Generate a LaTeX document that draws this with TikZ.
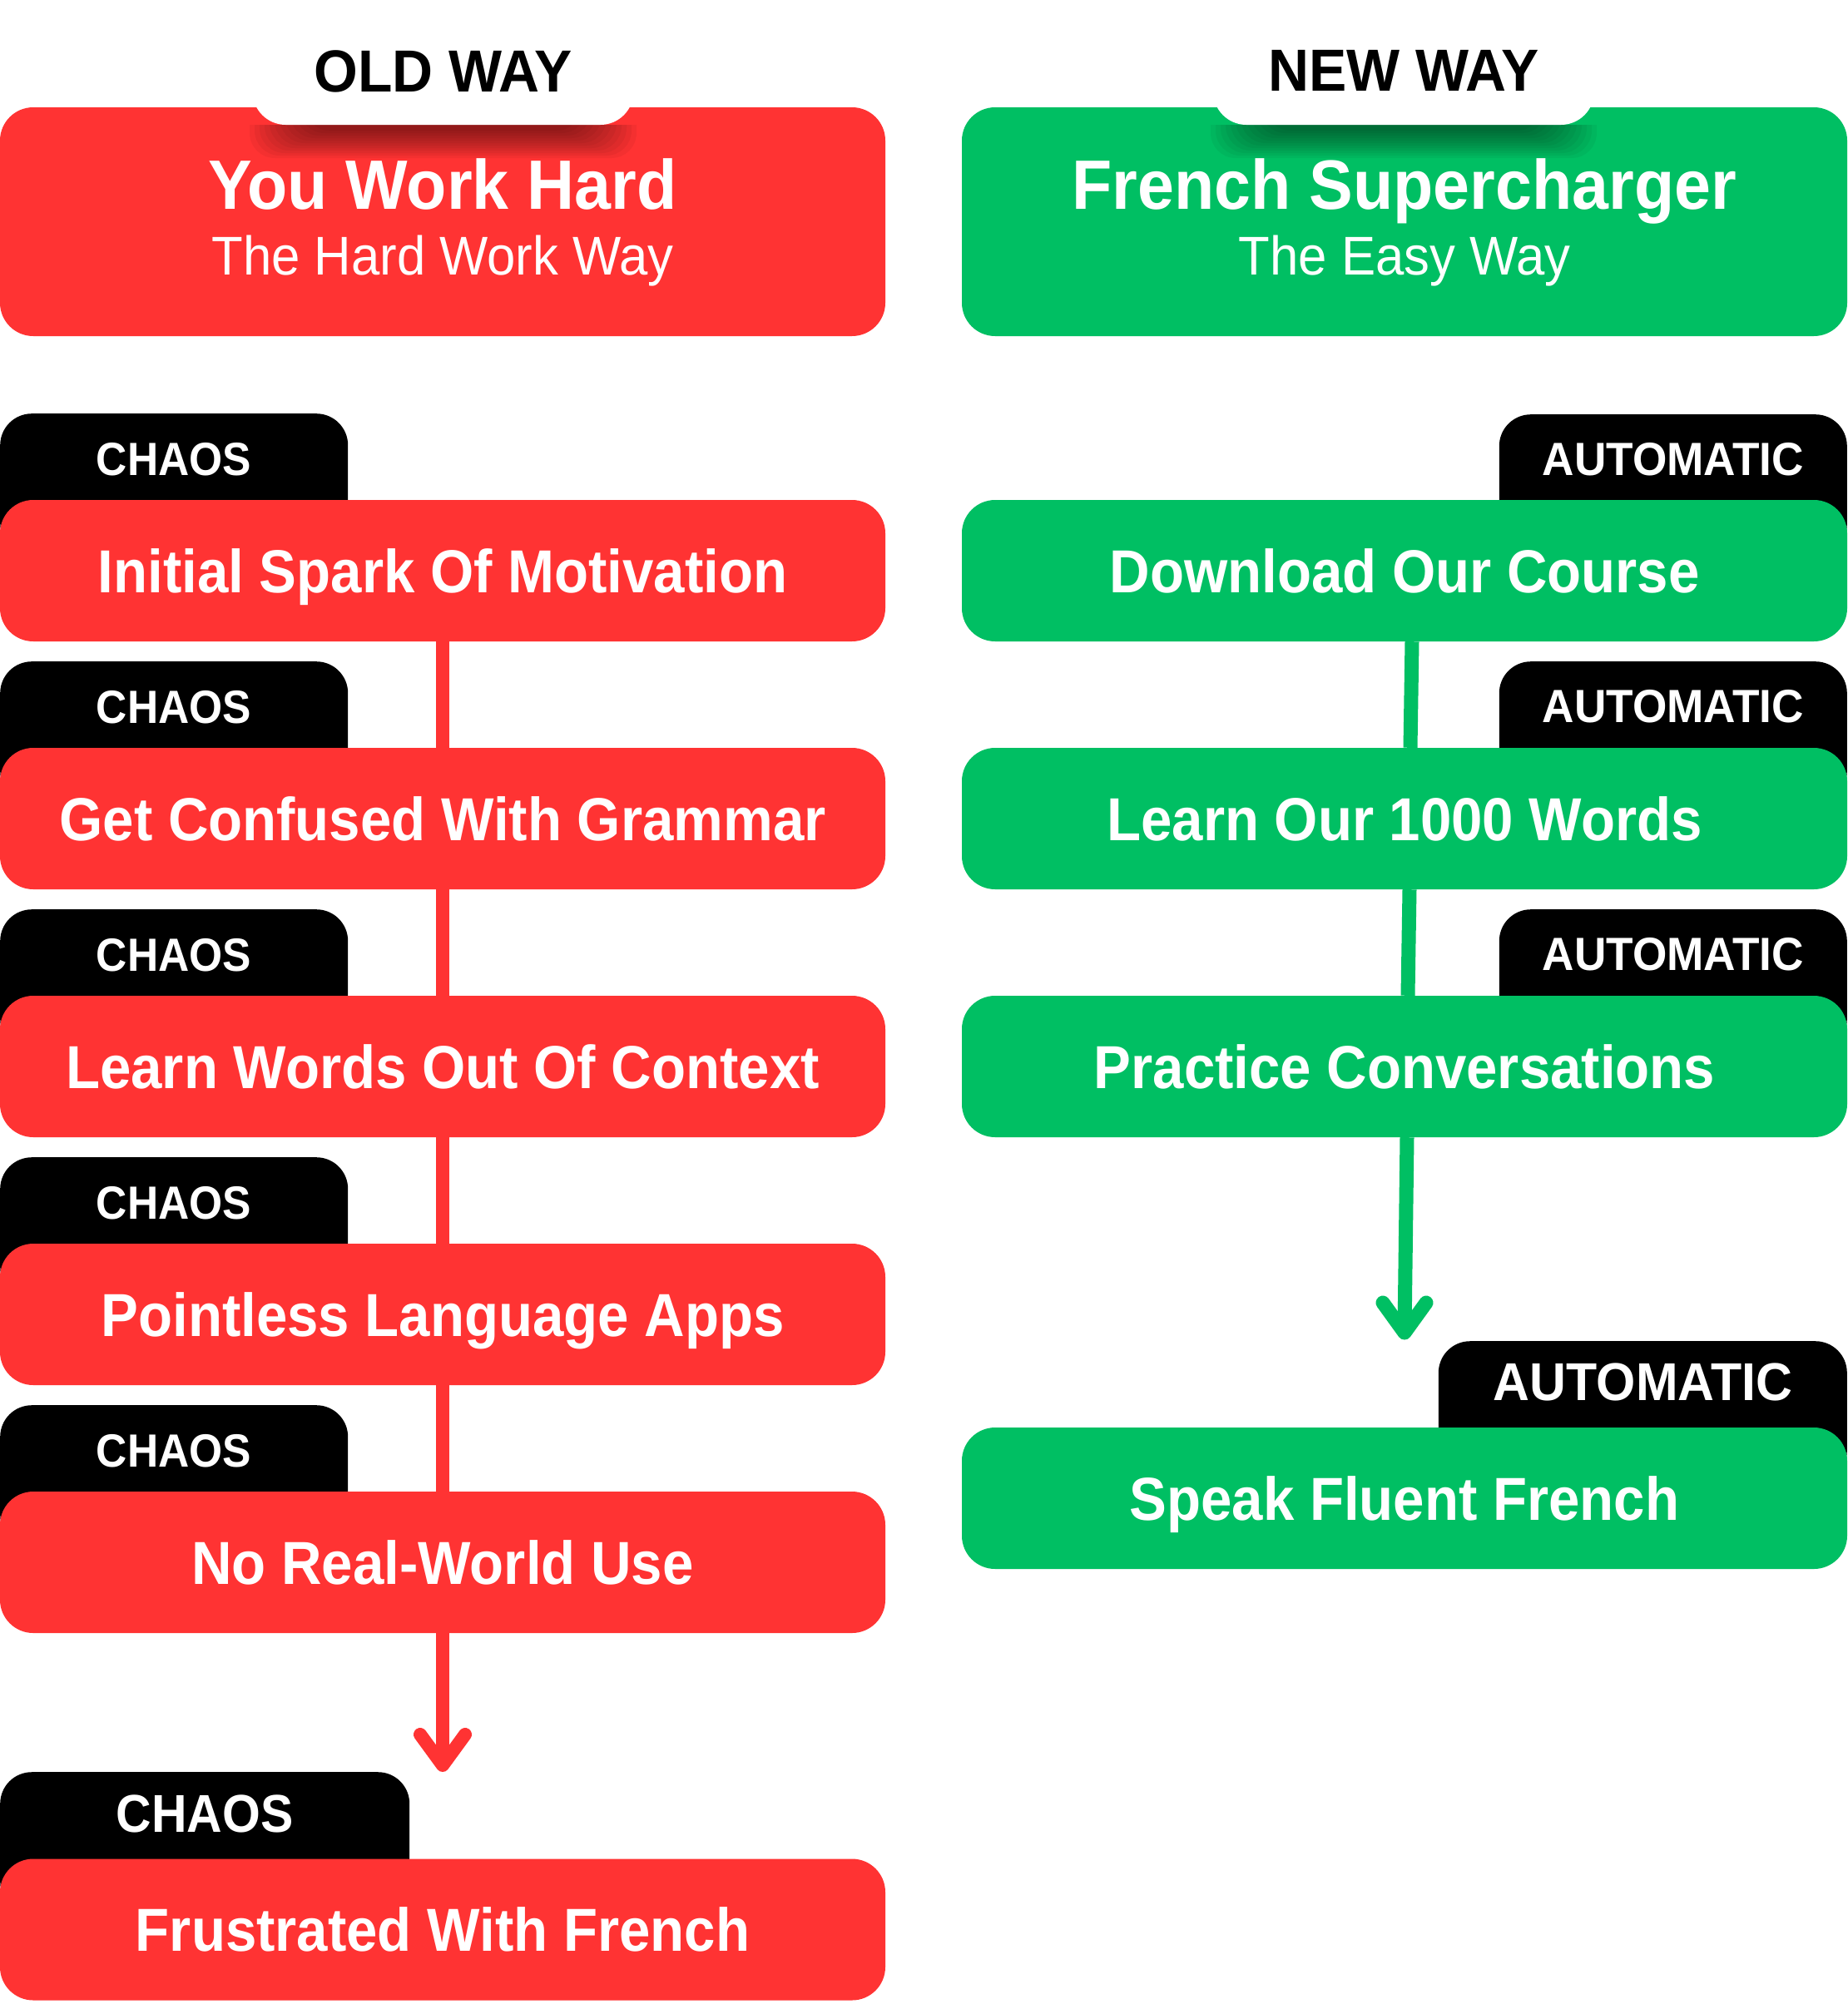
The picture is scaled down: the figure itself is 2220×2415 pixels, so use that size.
\documentclass[tikz,border=0pt]{standalone}
\usepackage{fontspec}
\setmainfont{Liberation Sans}
\newfontfamily\fb{Liberation Sans}[FakeStretch=0.92]
\newfontfamily\fbh{Liberation Sans}[FakeStretch=0.94]
\newfontfamily\fbw{Liberation Sans}[FakeStretch=0.95]
\newfontfamily\fr{Liberation Sans}[FakeStretch=0.94]
\usetikzlibrary{calc}
\definecolor{myred}{HTML}{FF3333}
\definecolor{mygreen}{HTML}{00BF63}
\begin{document}
\begin{tikzpicture}[x=1pt,y=-1pt,
  card/.style={rounded corners=40pt, inner sep=0pt, text=white, minimum width=1064pt},
  stepbox/.style={card, minimum height=170pt, font=\fb\bfseries\fontsize{73}{80}\selectfont, text height=52pt, text depth=0pt},
  redstep/.style={stepbox, fill=myred},
  greenstep/.style={stepbox, fill=mygreen},
  headbox/.style={card, minimum height=275pt},
  headtitle/.style={text=white, inner sep=0pt, font=\fbh\bfseries\fontsize{84}{90}\selectfont, text height=60pt, text depth=0pt},
  headsub/.style={text=white, inner sep=0pt, font=\fr\fontsize{65.6}{70}\selectfont, text height=47pt, text depth=0pt},
  whitetab/.style={fill=white, rounded corners=40pt, inner sep=0pt, minimum width=458pt, minimum height=190pt},
  tabtitle/.style={text=black, inner sep=0pt, font=\fbw\bfseries\fontsize{71.4}{76}\selectfont, text height=51pt, text depth=0pt},
  tabshape/.style={fill=black, rounded corners=38pt, inner sep=0pt, minimum height=170pt},
  chaoslbl/.style={text=white, inner sep=0pt, font=\fb\bfseries\fontsize{56}{60}\selectfont, text height=40pt, text depth=0pt},
  bigchaoslbl/.style={text=white, inner sep=0pt, font=\fb\bfseries\fontsize{64}{70}\selectfont, text height=46pt, text depth=0pt},
  autolbl/.style={text=white, inner sep=0pt, font=\fbw\bfseries\fontsize{56}{60}\selectfont, text height=40pt, text depth=0pt},
  bigautolbl/.style={text=white, inner sep=0pt, font=\fbw\bfseries\fontsize{64}{70}\selectfont, text height=46pt, text depth=0pt},
  redline/.style={draw=myred, line width=16pt},
  greenline/.style={draw=mygreen, line width=17pt},
  chevron/.style={line cap=round, line join=round},
  shadowlayer/.style={fill=black, opacity=0.045, rounded corners=30pt}
]
\useasboundingbox (0,0) rectangle (2220,2415);
\fill[white] (0,0) rectangle (2220,2415);

% ---------- headers ----------
\node[headbox, fill=myred] (HL) at (532,266.5) {};
\node[headbox, fill=mygreen] (HR) at (1688,266.5) {};
\begin{scope}
  \clip (0,150) rectangle (2220,230);
  \foreach \i in {0,...,11} {
    \fill[shadowlayer] (300+6*\i,100) rectangle (765-6*\i,190-3*\i);
    \fill[shadowlayer] (1455+6*\i,100) rectangle (1919-6*\i,190-3*\i);
  }
\end{scope}
\node[whitetab] (TL) at (532.5,55) {};
\node[whitetab] (TR) at (1687,55) {};
\node[tabtitle] (OW) at (532.5,84.5) {OLD WAY};
\node[tabtitle] (NW) at (1687,84) {NEW WAY};
\node[headtitle] (HLt) at (532,221) {You Work Hard};
\node[headsub] (HLs) at (532,306.5) {The Hard Work Way};
\node[headtitle] (HRt) at (1688,221) {French Supercharger};
\node[headsub] (HRs) at (1688,307) {The Easy Way};

% ---------- left tabs ----------
\node[tabshape, minimum width=418pt, anchor=north west] (CT1) at (0,497) {};
\node[tabshape, minimum width=418pt, anchor=north west] (CT2) at (0,795) {};
\node[tabshape, minimum width=418pt, anchor=north west] (CT3) at (0,1093) {};
\node[tabshape, minimum width=418pt, anchor=north west] (CT4) at (0,1391) {};
\node[tabshape, minimum width=418pt, anchor=north west] (CT5) at (0,1689) {};
\node[tabshape, minimum width=492pt, anchor=north west] (CT6) at (0,2130) {};
\node[chaoslbl] (CL1) at (209,551) {CHAOS};
\node[chaoslbl] (CL2) at (209,849) {CHAOS};
\node[chaoslbl] (CL3) at (209,1147) {CHAOS};
\node[chaoslbl] (CL4) at (209,1445) {CHAOS};
\node[chaoslbl] (CL5) at (209,1743) {CHAOS};
\node[bigchaoslbl] (CL6) at (246,2179) {CHAOS};

% ---------- right tabs ----------
\node[tabshape, minimum width=418pt, anchor=north east] (AT1) at (2220,498) {};
\node[tabshape, minimum width=418pt, anchor=north east] (AT2) at (2220,795) {};
\node[tabshape, minimum width=418pt, anchor=north east] (AT3) at (2220,1093) {};
\node[tabshape, minimum width=491pt, anchor=north east] (AT4) at (2220,1612) {};
\node[autolbl] (AL1) at (2011,551) {AUTOMATIC};
\node[autolbl] (AL2) at (2011,848) {AUTOMATIC};
\node[autolbl] (AL3) at (2011,1146) {AUTOMATIC};
\node[bigautolbl] (AL4) at (1974.5,1660) {AUTOMATIC};

% ---------- left steps ----------
\node[redstep] (L1) at (532,686) {Initial Spark Of Motivation};
\node[redstep] (L2) at (532,984) {Get Confused With Grammar};
\node[redstep] (L3) at (532,1282) {Learn Words Out Of Context};
\node[redstep] (L4) at (532,1580) {Pointless Language Apps};
\node[redstep] (L5) at (532,1878) {No Real-World Use};
\node[redstep] (L6) at (532,2319.5) {Frustrated With French};

% ---------- right steps ----------
\node[greenstep] (R1) at (1688,686) {Download Our Course};
\node[greenstep] (R2) at (1688,984) {Learn Our 1000 Words};
\node[greenstep] (R3) at (1688,1282) {Practice Conversations};
\node[greenstep] (R4) at (1688,1801) {Speak Fluent French};

% ---------- connectors ----------
\draw[redline] (L1.south) -- (L2.north);
\draw[redline] (L2.south) -- (L3.north);
\draw[redline] (L3.south) -- (L4.north);
\draw[redline] (L4.south) -- (L5.north);
\coordinate (LA) at (532,2122);
\draw[redline] (L5.south) -- (LA);
\draw[redline, chevron] ($(LA)+(-27,-37)$) -- (LA) -- ($(LA)+(27,-37)$);

\draw[greenline] ($(R1.south)+(9,0)$) -- ($(R2.north)+(7,0)$);
\draw[greenline] ($(R2.south)+(6,0)$) -- ($(R3.north)+(4,0)$);
\coordinate (RA) at (1688,1602);
\draw[greenline] ($(R3.south)+(3,0)$) -- (RA);
\draw[greenline, chevron] ($(RA)+(-26,-36)$) -- (RA) -- ($(RA)+(26,-36)$);
\end{tikzpicture}
\end{document}
